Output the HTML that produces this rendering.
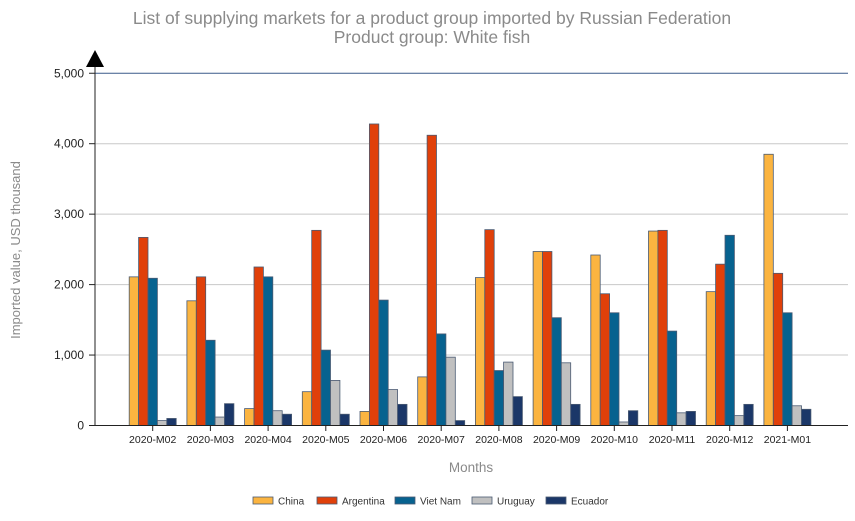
<!DOCTYPE html>
<html><head><meta charset="utf-8"><style>
body{margin:0;background:#fff;}
svg{display:block;font-family:"Liberation Sans",Arial,sans-serif;}
</style></head><body>
<svg id="s" width="855" height="521" xmlns="http://www.w3.org/2000/svg">
<text x="432" y="24" text-anchor="middle" font-size="17.5" fill="#8a8a8a">List of supplying markets for a product group imported by Russian Federation</text>
<text x="432" y="43" text-anchor="middle" font-size="17.5" fill="#8a8a8a">Product group: White fish</text>
<g id="grid"></g>
<g id="bars"></g>
<line x1="95" y1="60" x2="95" y2="426" stroke="#222" stroke-width="1"/>
<line x1="90" y1="425.5" x2="848" y2="425.5" stroke="#222" stroke-width="1"/>
<polygon points="86,67 104,67 95,50" fill="#000"/>
<text x="20" y="250" transform="rotate(-90 20 250)" text-anchor="middle" font-size="13" fill="#8a8a8a">Imported value, USD thousand</text>
<text x="471" y="472" text-anchor="middle" font-size="13.5" fill="#8a8a8a">Months</text>
<g id="leg" font-size="10" fill="#333"></g>
</svg>
<script>
var NS="http://www.w3.org/2000/svg";
function el(p,t,a,txt){var e=document.createElementNS(NS,t);for(var k in a)e.setAttribute(k,a[k]);if(txt!=null)e.textContent=txt;p.appendChild(e);return e;}
var g=document.getElementById('grid');
var y0=425.5,sc=70.45/1000;
["0","1,000","2,000","3,000","4,000","5,000"].forEach(function(l,i){
 var y=y0-i*1000*sc;
 if(i>0)el(g,'line',{x1:95,x2:848,y1:y,y2:y,stroke:i==5?'#3a5a8a':'#c8c8c8','stroke-width':1});
 el(g,'line',{x1:89,x2:95,y1:y,y2:y,stroke:'#222'});
 el(g,'text',{x:84,y:y+4,'text-anchor':'end','font-size':12,fill:'#222'},l);
});
var cols=['#fbb440','#e0400a','#07628f','#c0c0c0','#1b3768'];
var names=['China','Argentina','Viet Nam','Uruguay','Ecuador'];
var labs=['2020-M02','2020-M03','2020-M04','2020-M05','2020-M06','2020-M07','2020-M08','2020-M09','2020-M10','2020-M11','2020-M12','2021-M01'];
var d=[[2110,2670,2090,70,100],[1770,2110,1210,120,310],[240,2250,2110,210,160],[480,2770,1070,640,160],[200,4280,1780,510,300],[690,4120,1300,970,70],[2100,2780,780,900,410],[2470,2470,1530,890,300],[2420,1870,1600,50,210],[2760,2770,1340,180,200],[1900,2290,2700,140,300],[3850,2160,1600,280,230]];
var b=document.getElementById('bars');
d.forEach(function(r,i){
 var c=152.7+i*57.7;
 r.forEach(function(v,j){
  var h=v*sc,x=c-23.5+j*9.4;
  el(b,'rect',{x:x,y:y0-h,width:9.4,height:h,fill:cols[j],stroke:'#4a5a72','stroke-width':0.8});
 });
 el(b,'line',{x1:c,x2:c,y1:425.5,y2:431,stroke:'#222'});
 el(b,'text',{x:c,y:443,'text-anchor':'middle','font-size':10.5,fill:'#222'},labs[i]);
});
var L=document.getElementById('leg');
var lx=[253,317,395,472,546];
names.forEach(function(n,j){
 el(L,'rect',{x:lx[j],y:497,width:20,height:7,fill:cols[j],stroke:'#4a5a72','stroke-width':0.8});
 el(L,'text',{x:lx[j]+25,y:504.5},n);
});
</script>
</body></html>
